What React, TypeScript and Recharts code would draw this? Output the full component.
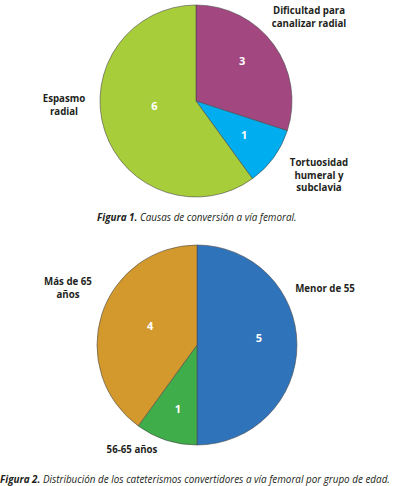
import React from 'react';
import { PieChart, Pie, Cell } from 'recharts';

// Figura 1: causas de conversión
const causas = ['Dificultad para canalizar radial', 'Tortuosidad humeral y subclavia', 'Espasmo radial'];
const causasValores = [3, 1, 6];
const causasColores = ['#A34781', '#00AEEF', '#A8CD3A'];

// Figura 2: grupo de edad
const edades = ['Menor de 55', '56-65 años', 'Más de 65 años'];
const edadesValores = [5, 1, 4];
const edadesColores = ['#2F73BA', '#3EAD4A', '#D3992D'];

const causasData = causas.map((name, i) => ({ name, value: causasValores[i] }));
const edadesData = edades.map((name, i) => ({ name, value: edadesValores[i] }));

const RAD = Math.PI / 180;

// small shifts so the numbers sit where Excel put them
const makeInnerLabel = (nudges: number[][]) => (props: any) => {
  const { cx, cy, midAngle, outerRadius, value, index } = props;
  const r = outerRadius * 0.62;
  const x = cx + r * Math.cos(-midAngle * RAD) + (nudges[index]?.[0] ?? 0);
  const y = cy + r * Math.sin(-midAngle * RAD) + (nudges[index]?.[1] ?? 0);
  return (
    <text x={x} y={y} fill="#fff" fontSize={11} fontWeight="bold" textAnchor="middle" dominantBaseline="central"
      fontFamily="'Open Sans', sans-serif">
      {value}
    </text>
  );
};

const labelStyle: React.CSSProperties = {
  position: 'absolute',
  fontFamily: "'Open Sans', sans-serif",
  fontWeight: 'bold',
  fontSize: 9.7,
  lineHeight: '12.5px',
  color: '#231F20',
  textAlign: 'center',
  whiteSpace: 'nowrap',
  transform: 'translateX(-50%)',
};

const captionStyle: React.CSSProperties = {
  position: 'absolute',
  fontFamily: "'Open Sans', sans-serif",
  fontStyle: 'italic',
  fontSize: 9.9,
  color: '#231F20',
  whiteSpace: 'nowrap',
};

export default function App() {
  return (
    <div style={{ position: 'absolute', left: 0, top: 0, width: 394, height: 486, background: '#fff' }}>
      <PieChart width={394} height={486} margin={{ top: 0, right: 0, bottom: 0, left: 0 }}
        style={{ position: 'absolute', left: 0, top: 0 }}>
        <Pie data={causasData} dataKey="value" cx={196} cy={101} outerRadius={96} startAngle={90} endAngle={-270}
          stroke="#4a4a4a" strokeWidth={0.6} isAnimationActive={false} labelLine={false}
          label={makeInnerLabel([[-2, -6], [0, -1], [15, -14]])}>
          {causasData.map((d, i) => <Cell key={d.name} fill={causasColores[i]} />)}
        </Pie>
        <Pie data={edadesData} dataKey="value" cx={197} cy={345} outerRadius={100} startAngle={90} endAngle={-270}
          stroke="#4a4a4a" strokeWidth={0.6} isAnimationActive={false} labelLine={false}
          label={makeInnerLabel([[0, -8], [0, 5], [12, 0]])}>
          {edadesData.map((d, i) => <Cell key={d.name} fill={edadesColores[i]} />)}
        </Pie>
      </PieChart>

      <div style={{ ...labelStyle, left: 309, top: 5 }}>Dificultad para<br />canalizar radial</div>
      <div style={{ ...labelStyle, left: 64, top: 93 }}>Espasmo<br />radial</div>
      <div style={{ ...labelStyle, left: 319, top: 157 }}>Tortuosidad<br />humeral y<br />subclavia</div>
      <div style={{ ...captionStyle, left: 97, top: 210 }}><b>Figura 1.</b> Causas de conversión a vía femoral.</div>

      <div style={{ ...labelStyle, left: 325, top: 283 }}>Menor de 55</div>
      <div style={{ ...labelStyle, left: 68, top: 276 }}>Más de 65<br />años</div>
      <div style={{ ...labelStyle, left: 132, top: 444 }}>56-65 años</div>
      <div style={{ ...captionStyle, left: 0, top: 472 }}><b>Figura 2.</b> Distribución de los cateterismos convertidores a vía femoral por grupo de edad.</div>
    </div>
  );
}
